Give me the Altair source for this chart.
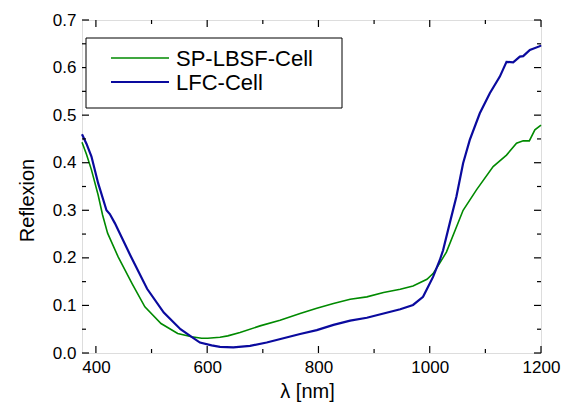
import altair as alt
import pandas as pd

# ---- data ----
series_names = ["SP-LBSF-Cell", "LFC-Cell"]
series_colors = ["#008a00", "#0a0a9e"]

sp_x = [375, 383, 392, 404, 412, 421, 440, 465, 488, 517, 547, 572, 590, 601,
        623, 637, 659, 695, 731, 767, 797, 827, 857, 887, 917, 947, 970, 995,
        1006, 1018, 1030, 1060, 1084, 1114, 1138, 1156, 1168, 1179, 1189, 1200]
sp_y = [0.443, 0.418, 0.385, 0.332, 0.29, 0.252, 0.202, 0.146, 0.097, 0.062,
        0.041, 0.034, 0.031, 0.031, 0.033, 0.036, 0.043, 0.057, 0.069, 0.083,
        0.094, 0.104, 0.113, 0.118, 0.127, 0.134, 0.141, 0.155, 0.167, 0.189,
        0.212, 0.30, 0.343, 0.392, 0.416, 0.441, 0.446, 0.446, 0.469, 0.479]

lfc_x = [375, 383, 392, 404, 419, 425, 434, 462, 492, 522, 552, 572, 587, 608,
         623, 647, 677, 707, 737, 767, 797, 827, 857, 887, 917, 947, 970, 988,
         1006, 1018, 1024, 1036, 1048, 1060, 1072, 1090, 1108, 1126, 1138, 1150,
         1162, 1168, 1180, 1198, 1200]
lfc_y = [0.46, 0.44, 0.413, 0.357, 0.30, 0.292, 0.273, 0.205, 0.135, 0.085,
         0.05, 0.034, 0.022, 0.016, 0.013, 0.012, 0.015, 0.022, 0.031, 0.040,
         0.048, 0.059, 0.068, 0.074, 0.083, 0.092, 0.101, 0.118, 0.160, 0.195,
         0.216, 0.273, 0.329, 0.399, 0.448, 0.504, 0.546, 0.581, 0.612, 0.611,
         0.623, 0.624, 0.637, 0.645, 0.647]

x_major = [400, 600, 800, 1000, 1200]
x_minor = [500, 700, 900, 1100]
y_major = [0.0, 0.1, 0.2, 0.3, 0.4, 0.5, 0.6, 0.7]
y_minor = [0.05, 0.15, 0.25, 0.35, 0.45, 0.55, 0.65]

W, H = 459, 333
FONT = "Liberation Sans"

sp_df = pd.DataFrame({"wl": sp_x, "r": sp_y})
lfc_df = pd.DataFrame({"wl": lfc_x, "r": lfc_y})

xs = alt.Scale(domain=[375, 1200], nice=False, zero=False)
ys = alt.Scale(domain=[0, 0.7], nice=False, zero=False)

x_enc = alt.X("wl:Q", scale=xs, axis=alt.Axis(
    values=x_major, format="d", ticks=False, domain=False, grid=False, labelFontSize=17,
    labelFont=FONT, labelColor="black", labelPadding=6, labelFlush=False,
    title="λ [nm]", titleFont=FONT, titleFontSize=20, titleFontWeight="normal",
    titleColor="black", titleBaseline="alphabetic", titleY=44, titleX=225,
    titleAlign="center"))
y_enc = alt.Y("r:Q", scale=ys, axis=alt.Axis(
    values=y_major, format=".1f", ticks=False, domain=False, grid=False,
    labelFontSize=17, labelFont=FONT, labelColor="black", labelPadding=6,
    labelFlush=False, title="Reflexion", titleFont=FONT, titleFontSize=20,
    titleFontWeight="normal", titleColor="black", titleBaseline="alphabetic",
    titleX=-49, titleY=180, titleAlign="center", titleAngle=270))

sp_line = alt.Chart(sp_df).mark_line(color=series_colors[0], strokeWidth=1.6).encode(x=x_enc, y=y_enc)
lfc_line = alt.Chart(lfc_df).mark_line(color=series_colors[1], strokeWidth=2.2).encode(x="wl:Q", y="r:Q")

def xticks(vals, length):
    df = pd.DataFrame({"wl": vals})
    b = alt.Chart(df).mark_rule(color="black", strokeWidth=1.2).encode(
        x="wl:Q", y=alt.value(H), y2=alt.value(H - length))
    t = alt.Chart(df).mark_rule(color="black", strokeWidth=1.2).encode(
        x="wl:Q", y=alt.value(0), y2=alt.value(length))
    return [b, t]

def yticks(vals, length):
    df = pd.DataFrame({"r": vals})
    l = alt.Chart(df).mark_rule(color="black", strokeWidth=1.2).encode(
        y="r:Q", x=alt.value(0), x2=alt.value(length))
    r = alt.Chart(df).mark_rule(color="black", strokeWidth=1.2).encode(
        y="r:Q", x=alt.value(W), x2=alt.value(W - length))
    return [l, r]

ticks = xticks(x_major, 7) + xticks(x_minor, 4) + yticks(y_major, 7) + yticks(y_minor, 4)

# legend (drawn by hand)
leg_box = alt.Chart(pd.DataFrame({"a": [0]})).mark_rect(
    fill="white", stroke="black", strokeWidth=1).encode(
    x=alt.value(4), x2=alt.value(260), y=alt.value(18), y2=alt.value(88))
leg_layers = [leg_box]
for i, (name, col) in enumerate(zip(series_names, series_colors)):
    yy = 38 + 24 * i
    leg_layers.append(alt.Chart(pd.DataFrame({"a": [0]})).mark_rule(
        color=col, strokeWidth=1.6 if i == 0 else 2.2).encode(
        x=alt.value(29), x2=alt.value(87), y=alt.value(yy)))
    leg_layers.append(alt.Chart(pd.DataFrame({"a": [0]})).mark_text(
        align="left", baseline="middle", font=FONT, fontSize=22, color="black").encode(
        x=alt.value(94), y=alt.value(yy + 1), text=alt.value(name)))

chart = alt.layer(sp_line, lfc_line, *ticks, *leg_layers).properties(
    width=W, height=H,
    autosize=alt.AutoSizeParams(type="none"),
    padding={"left": 74, "top": 12, "right": 22, "bottom": 50},
).configure_view(stroke="black", strokeWidth=1.5).configure(background="white")

chart.save("out.html", embed_options={"renderer": "svg", "actions": False})
